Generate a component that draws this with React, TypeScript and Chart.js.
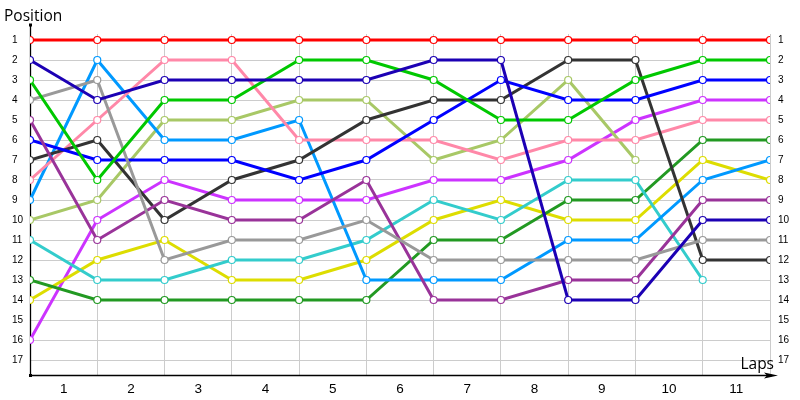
import React, { useEffect, useRef } from "react";
import { Chart, registerables } from "chart.js";

Chart.register(...registerables);

// Lap boundaries (0 = start) and lap labels
const LAP_POINTS = [0, 1, 2, 3, 4, 5, 6, 7, 8, 9, 10, 11];
const LAP_LABELS = ["1", "2", "3", "4", "5", "6", "7", "8", "9", "10", "11"];
const POSITIONS = [1, 2, 3, 4, 5, 6, 7, 8, 9, 10, 11, 12, 13, 14, 15, 16, 17];

// Position of each driver at each lap boundary
const red = [1, 1, 1, 1, 1, 1, 1, 1, 1, 1, 1, 1];
const navy = [2, 4, 3, 3, 3, 3, 2, 2, 14, 14, 10, 10];
const green = [3, 8, 4, 4, 2, 2, 3, 5, 5, 3, 2, 2];
const gray = [4, 3, 12, 11, 11, 10, 12, 12, 12, 12, 11, 11];
const purple = [5, 11, 9, 10, 10, 8, 14, 14, 13, 13, 9, 9];
const blue = [6, 7, 7, 7, 8, 7, 5, 3, 4, 4, 3, 3];
const black = [7, 6, 10, 8, 7, 5, 4, 4, 2, 2, 12, 12];
const pink = [8, 5, 2, 2, 6, 6, 6, 7, 6, 6, 5, 5];
const lightBlue = [9, 2, 6, 6, 5, 13, 13, 13, 11, 11, 8, 7];
const lightGreen = [10, 9, 5, 5, 4, 4, 7, 6, 3, 7, null, null];
const cyan = [11, 13, 13, 12, 12, 11, 9, 10, 8, 8, 13, null];
const darkGreen = [13, 14, 14, 14, 14, 14, 11, 11, 9, 9, 6, 6];
const yellow = [14, 12, 11, 13, 13, 12, 10, 9, 10, 10, 7, 8];
const magenta = [16, 10, 8, 9, 9, 9, 8, 8, 7, 5, 4, 4];

const SERIES: { values: (number | null)[]; color: string }[] = [
  { values: red, color: "#ff0000" },
  { values: navy, color: "#1c00b4" },
  { values: green, color: "#00c800" },
  { values: gray, color: "#999999" },
  { values: purple, color: "#993399" },
  { values: blue, color: "#0000ff" },
  { values: black, color: "#333333" },
  { values: pink, color: "#ff88a8" },
  { values: lightBlue, color: "#0099ff" },
  { values: lightGreen, color: "#a8c866" },
  { values: cyan, color: "#33cccc" },
  { values: darkGreen, color: "#229922" },
  { values: yellow, color: "#dddd00" },
  { values: magenta, color: "#cc33ff" },
];

const axesPlugin = {
  id: "lapAxes",
  beforeDatasetsDraw(chart: any) {
    const ctx = chart.ctx;
    const { left, right, bottom } = chart.chartArea;
    const yScale = chart.scales.y;
    const topY = yScale.getPixelForValue(0.25);
    ctx.save();
    ctx.strokeStyle = "#000";
    ctx.lineWidth = 1.3;
    ctx.beginPath();
    ctx.moveTo(left + 0.5, topY);
    ctx.lineTo(left + 0.5, bottom);
    ctx.moveTo(left, bottom + 0.5);
    ctx.lineTo(right + 2, bottom + 0.5);
    ctx.stroke();
    ctx.fillStyle = "#000";
    ctx.fillRect(left - 1, topY - 1.5, 3, 3);
    ctx.fillRect(left - 1, bottom - 1, 3, 3);
    // arrow head on the lap axis
    ctx.beginPath();
    ctx.moveTo(right + 8, bottom + 0.5);
    ctx.lineTo(right - 6, bottom - 2.5);
    ctx.lineTo(right - 3, bottom + 0.5);
    ctx.lineTo(right - 6, bottom + 3.5);
    ctx.closePath();
    ctx.fill();
    ctx.restore();
  },
  afterDraw(chart: any) {
    const ctx = chart.ctx;
    const { right, bottom } = chart.chartArea;
    ctx.save();
    ctx.fillStyle = "#000";
    ctx.font = "15.5px 'Open Sans'";
    ctx.textBaseline = "alphabetic";
    ctx.textAlign = "left";
    ctx.fillText("Position", 4, 21);
    ctx.textAlign = "right";
    ctx.fillText("Laps", right + 4, bottom - 6);
    ctx.restore();
  },
};

export default function App() {
  const ref = useRef<HTMLCanvasElement | null>(null);

  useEffect(() => {
    if (!ref.current) return;
    const chart = new Chart(ref.current, {
      type: "line",
      data: {
        datasets: SERIES.map((s) => ({
          data: s.values.map((v, i) => ({ x: LAP_POINTS[i], y: v })),
          borderColor: s.color,
          backgroundColor: s.color,
          borderWidth: 3,
          pointRadius: 3.5,
          pointBorderWidth: 1.2,
          pointBackgroundColor: "#ffffff",
          pointBorderColor: s.color,
          tension: 0,
          spanGaps: false,
          fill: false,
        })) as any,
      },
      options: {
        animation: false,
        responsive: false,
        layout: { padding: { left: 12, top: 34, right: 0, bottom: 0 } },
        plugins: {
          legend: { display: false },
          tooltip: { enabled: false },
          title: { display: false },
        },
        scales: {
          x: {
            type: "linear",
            position: "bottom",
            min: 0,
            max: 11,
            afterBuildTicks: (s: any) => {
              s.ticks = LAP_LABELS.map((_, i) => ({ value: i + 0.5 }));
            },
            afterFit: (s: any) => {
              s.height = 25;
            },
            grid: { color: "#cccccc", lineWidth: 1, offset: true, drawTicks: false },
            border: { display: false },
            ticks: {
              autoSkip: false,
              maxRotation: 0,
              padding: 6,
              color: "#000",
              font: { family: "'Liberation Sans'", size: 13.5 },
              callback: (v: any, i: number) => LAP_LABELS[i],
            },
          },
          y: {
            type: "linear",
            position: "left",
            reverse: true,
            min: 0.7,
            max: 17.75,
            afterBuildTicks: (s: any) => {
              s.ticks = POSITIONS.map((p) => ({ value: p }));
            },
            afterFit: (s: any) => {
              s.width = 18;
            },
            grid: { color: "#cccccc", lineWidth: 1, drawTicks: false },
            border: { display: false },
            ticks: {
              crossAlign: "far",
              padding: 0,
              autoSkip: false,
              color: "#000",
              font: { family: "'Liberation Sans'", size: 10 },
              callback: (v: any) => String(v),
            },
          },
          y2: {
            type: "linear",
            position: "right",
            reverse: true,
            min: 0.7,
            max: 17.75,
            afterBuildTicks: (s: any) => {
              s.ticks = POSITIONS.map((p) => ({ value: p }));
            },
            afterFit: (s: any) => {
              s.width = 30;
            },
            grid: { display: false, drawTicks: false },
            border: { display: false },
            ticks: {
              crossAlign: "near",
              padding: 8,
              autoSkip: false,
              color: "#000",
              font: { family: "'Liberation Sans'", size: 10 },
              callback: (v: any) => String(v),
            },
          },
        },
      } as any,
      plugins: [axesPlugin],
    });
    return () => chart.destroy();
  }, []);

  return (
    <div style={{ position: "absolute", left: 0, top: 0, width: 800, height: 400, background: "#fff" }}>
      <canvas ref={ref} width={800} height={400} style={{ display: "block", width: 800, height: 400 }} />
    </div>
  );
}
